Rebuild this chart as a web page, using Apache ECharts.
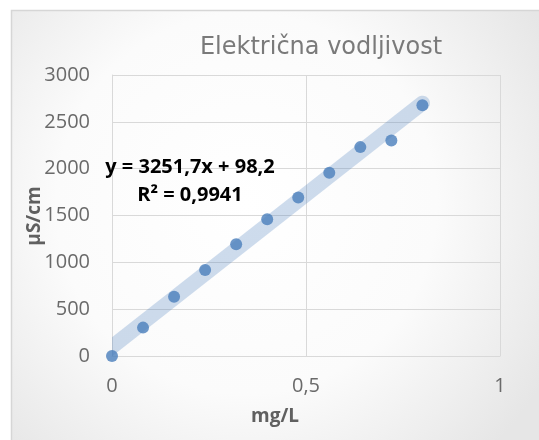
<!DOCTYPE html>
<html>
<head>
<meta charset="utf-8">
<script src="https://cdn.jsdelivr.net/npm/echarts@6/dist/echarts.min.js"></script>
<style>
html,body{margin:0;padding:0;background:#fff;}
#chart{width:539px;height:440px;}
</style>
</head>
<body>
<div id="chart"></div>
<script>
// ---- data ----
const concentration = [0, 0.08, 0.16, 0.24, 0.32, 0.40, 0.48, 0.56, 0.64, 0.72, 0.80]; // mg/L
const conductivity  = [0, 303, 632, 917, 1193, 1460, 1692, 1956, 2230, 2300, 2676];   // µS/cm
const trendSlope = 3251.7;
const trendIntercept = 98.2;
const trendRange = [0, 0.8];
const xTicks = [0, 0.5, 1];
const yTicks = [0, 500, 1000, 1500, 2000, 2500, 3000];
const titleText = 'Električna vodljivost';
const xTitle = 'mg/L';
const yTitle = 'µS/cm';
const equationText = 'y = 3251,7x + 98,2';
const r2Text = 'R² = 0,9941';

const points = concentration.map((x, i) => [x, conductivity[i]]);
const trendPoints = trendRange.map(x => [x, trendSlope * x + trendIntercept]);

const chart = echarts.init(document.getElementById('chart'), null, {renderer: 'canvas'});
const gridCol = '#d9d9d9';
const labelCol = '#6a6a6a';
const font = '"Open Sans", sans-serif';
const bandHalf = 7.5;

function renderBand(params, api) {
  const p0 = api.coord(trendPoints[0]);
  const p1 = api.coord(trendPoints[1]);
  const dx = p1[0] - p0[0], dy = p1[1] - p0[1];
  const len = Math.hypot(dx, dy);
  const d = [dx / len, dy / len];
  const n = [-d[1], d[0]];
  const r = bandHalf;
  const x0 = p0[0];
  // edge start points cut vertically at the y-axis
  const a = [p0[0] + n[0] * r, p0[1] + n[1] * r];
  const ta = (x0 - a[0]) / d[0];
  const A0 = [x0, a[1] + ta * d[1]];
  const b = [p0[0] - n[0] * r, p0[1] - n[1] * r];
  const tb = (x0 - b[0]) / d[0];
  const B0 = [x0, b[1] + tb * d[1]];
  const pts = [A0];
  const N = 24;
  for (let k = 0; k <= N; k++) {
    const phi = Math.PI * k / N;
    pts.push([
      p1[0] + r * (n[0] * Math.cos(phi) + d[0] * Math.sin(phi)),
      p1[1] + r * (n[1] * Math.cos(phi) + d[1] * Math.sin(phi))
    ]);
  }
  pts.push(B0);
  return {
    type: 'polygon',
    shape: {points: pts},
    style: {fill: 'rgba(79,129,189,0.28)'}
  };
}

chart.setOption({
  animation: false,
  backgroundColor: '#ffffff',
  graphic: [
    {
      type: 'rect', z: -10, silent: true,
      shape: {x: 11.5, y: 10.5, width: 560, height: 460},
      style: {
        fill: new echarts.graphic.RadialGradient(0.42, 0.42, 0.75, [
          {offset: 0, color: '#ffffff'},
          {offset: 0.55, color: '#fbfbfb'},
          {offset: 1, color: '#e6e6e6'}
        ]),
        stroke: '#d6d6d6', lineWidth: 1.5
      }
    },
    {
      type: 'text', x: 321, y: 48, z: 10,
      style: {text: titleText, fill: '#7a7a7a', font: '24px "DejaVu Sans", sans-serif', align: 'center', verticalAlign: 'middle'}
    },
    {
      type: 'text', x: 275, y: 417, z: 10,
      style: {text: xTitle, fill: '#606060', font: 'bold 19px ' + font, align: 'center', verticalAlign: 'middle'}
    },
    {
      type: 'text', x: 35, y: 216, rotation: Math.PI / 2, z: 10,
      style: {text: yTitle, fill: '#606060', font: 'bold 19px ' + font, align: 'center', verticalAlign: 'middle'}
    },
    {
      type: 'text', x: 190, y: 167, z: 10,
      style: {text: equationText, fill: '#000000', font: 'bold 20px ' + font, align: 'center', verticalAlign: 'middle'}
    },
    {
      type: 'text', x: 190, y: 195, z: 10,
      style: {text: r2Text, fill: '#000000', font: 'bold 20px ' + font, align: 'center', verticalAlign: 'middle'}
    }
  ],
  grid: {left: 112, right: 39, top: 75, bottom: 84, containLabel: false},
  xAxis: {
    type: 'value', min: xTicks[0], max: xTicks[xTicks.length - 1], interval: 0.5,
    axisLine: {show: true, lineStyle: {color: gridCol, width: 1}},
    axisTick: {show: false},
    splitLine: {show: true, lineStyle: {color: gridCol, width: 1}},
    axisLabel: {
      color: labelCol, fontSize: 20, fontFamily: font, margin: 20,
      formatter: v => String(v).replace('.', ',')
    }
  },
  yAxis: {
    type: 'value', min: yTicks[0], max: yTicks[yTicks.length - 1], interval: 500,
    axisLine: {show: true, lineStyle: {color: gridCol, width: 1}},
    axisTick: {show: false},
    splitLine: {show: true, lineStyle: {color: gridCol, width: 1}},
    axisLabel: {color: labelCol, fontSize: 20, fontFamily: font, margin: 22, formatter: v => String(v)}
  },
  series: [
    {
      type: 'custom', data: [[trendRange[0], trendIntercept]], renderItem: renderBand,
      clip: true, silent: true, z: 2
    },
    {
      type: 'scatter', data: points, symbol: 'circle', symbolSize: 12, z: 3,
      itemStyle: {color: '#4a7ebb'}
    }
  ]
});
</script>
</body>
</html>
